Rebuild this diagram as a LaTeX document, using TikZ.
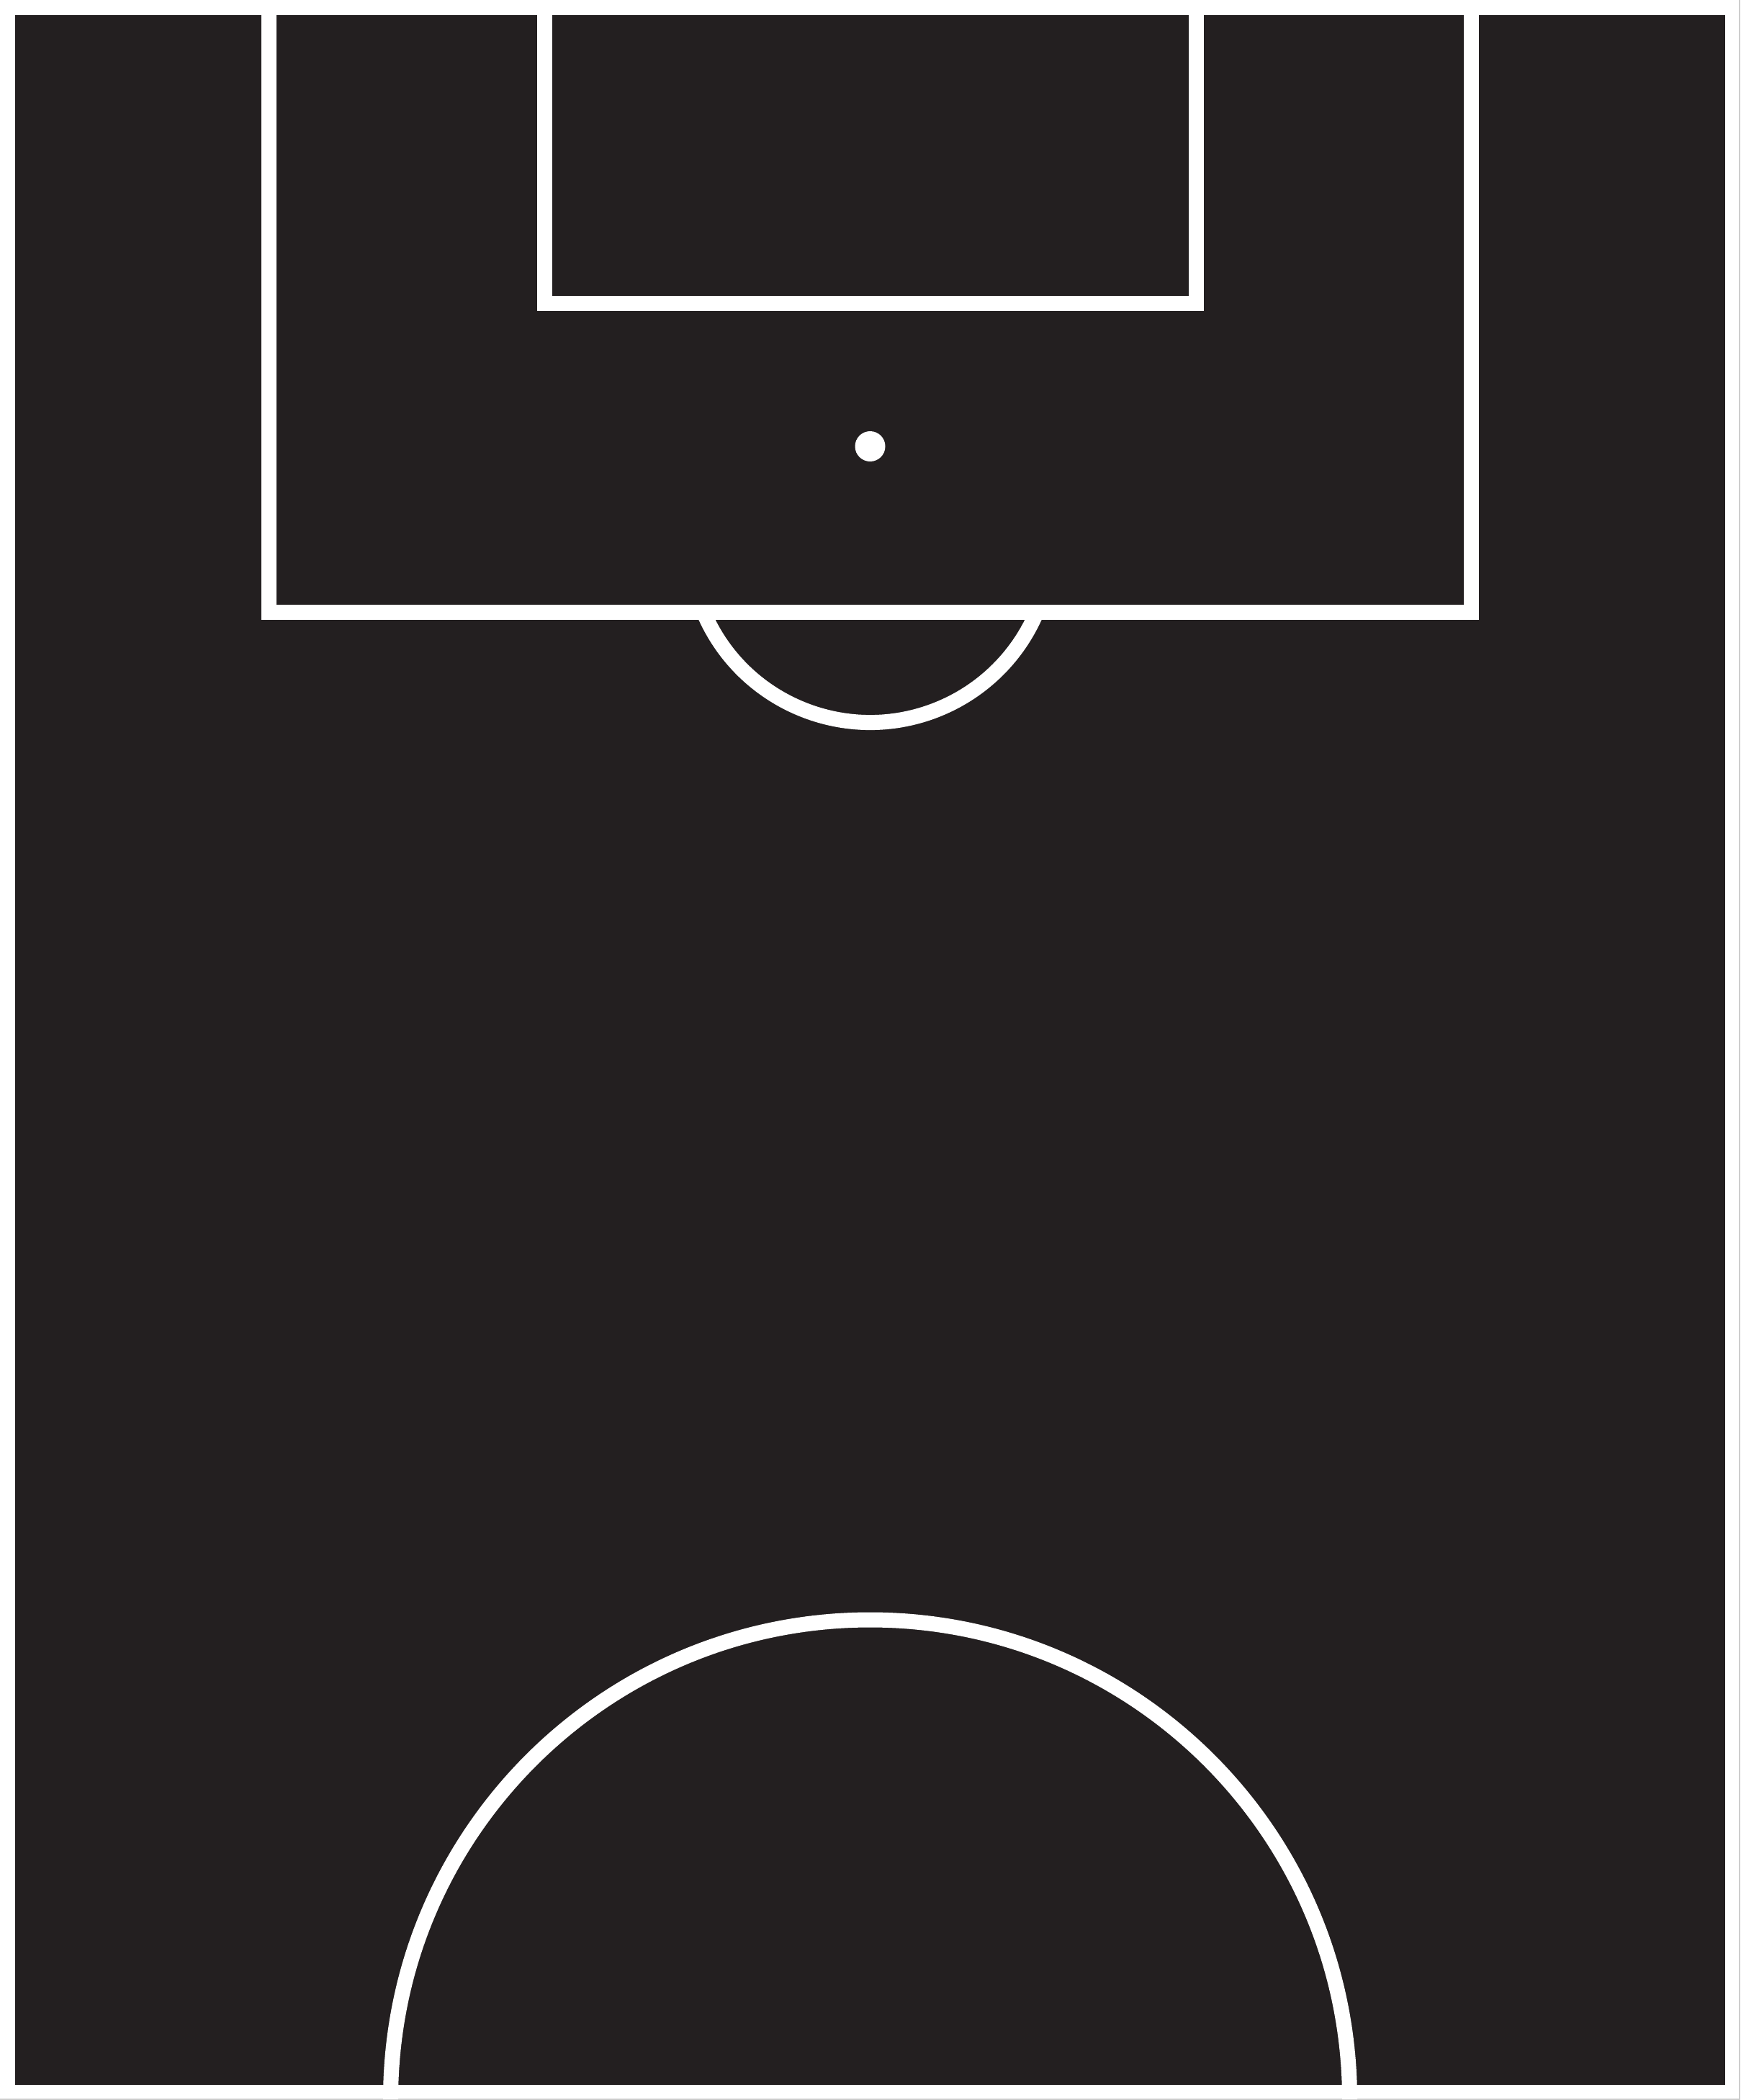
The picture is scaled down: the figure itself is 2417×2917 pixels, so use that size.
\documentclass[tikz,border=0pt]{standalone}
\definecolor{pitch}{RGB}{35,31,32}
\definecolor{edgegray}{RGB}{205,205,205}
\tikzset{
  pitchline/.style={draw=white, line width=21pt, line join=miter},
}
\begin{document}
\begin{tikzpicture}[x=1pt,y=-1pt]
  \useasboundingbox (0,0) rectangle (2417,2917);
  \fill[white] (0,0) rectangle (2417,2917);
  % faint image edge on right and bottom
  \draw[edgegray, line width=2pt] (2416,0) -- (2416,2916) -- (0,2916);
  % pitch surface
  \fill[pitch] (21,21) rectangle (2396,2896);
  % penalty area
  \draw[pitchline] (373,0) -- (373,850) -- (2043.7,850) -- (2043.7,0);
  % goal area
  \draw[pitchline] (756,0) -- (756,421) -- (1661,421) -- (1661,0);
  % penalty spot
  \fill[white] (1208.5,620) circle[radius=21];
  % penalty arc
  \draw[pitchline] (977,850) arc[start angle=157.1, end angle=22.9, radius=251.3];
  % centre circle (half)
  \draw[pitchline] (542.5,2916) arc[start angle=180, end angle=360, radius=666];
\end{tikzpicture}
\end{document}
